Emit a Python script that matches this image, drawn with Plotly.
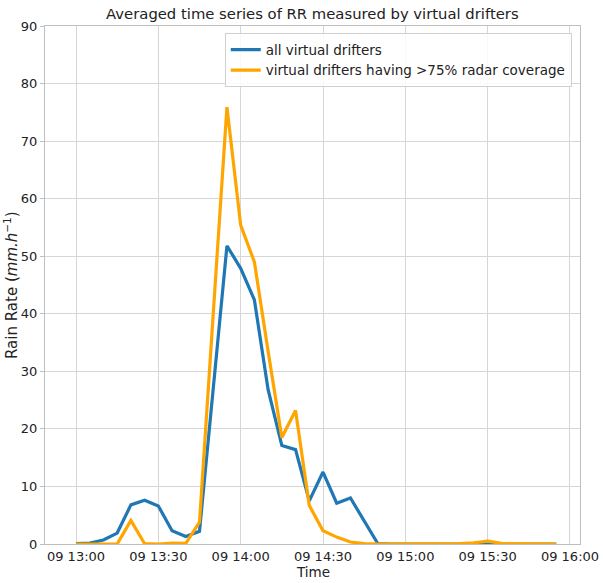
import plotly.graph_objects as go
import pandas as pd

times = pd.date_range("2019-01-09 13:00", "2019-01-09 15:55", freq="5min")

all_drifters = [0.05, 0.15, 0.7, 1.9, 6.8, 7.6, 6.6, 2.3, 1.3, 2.2,
                27.0, 51.8, 47.9, 42.4, 26.8, 17.1, 16.4, 7.5, 12.5, 7.1,
                8.0, 4.0, 0.05, 0.0, 0.0, 0.0, 0.0, 0.0, 0.0, 0.0,
                0.1, 0.0, 0.0, 0.0, 0.0, 0.0]
covered_drifters = [0.0, 0.0, 0.0, 0.0, 4.1, 0.05, 0.0, 0.15, 0.1, 3.8,
                    40.0, 75.9, 55.4, 49.0, 33.5, 18.5, 23.2, 6.7, 2.3, 1.2,
                    0.35, 0.05, 0.0, 0.0, 0.0, 0.0, 0.0, 0.0, 0.05, 0.2,
                    0.5, 0.1, 0.05, 0.0, 0.0, 0.0]

names = ["all virtual drifters", "virtual drifters having >75% radar coverage"]
colors = ["#1f77b4", "#FFA500"]

font = "DejaVu Sans, Verdana, sans-serif"
fig = go.Figure()
for y, n, c in zip([all_drifters, covered_drifters], names, colors):
    fig.add_trace(go.Scatter(x=times, y=y, mode="lines", name=n,
                             line=dict(color=c, width=3.2)))

axis_common = dict(showgrid=True, gridcolor="#d6d6d6", gridwidth=1,
                   showline=True, linecolor="#bfbfbf", linewidth=1, mirror=True,
                   automargin=False,
                   tickfont=dict(family=font, size=13, color="#222"), zeroline=False)

fig.update_layout(
    width=603, height=583,
    margin=dict(l=45, r=23, t=26, b=39),
    paper_bgcolor="white", plot_bgcolor="white",
    title=dict(text="Averaged time series of RR measured by virtual drifters",
               x=0.518, xanchor="center", y=0.976, yanchor="middle",
               font=dict(family=font, size=14.8, color="#222")),
    xaxis=dict(**axis_common, type="date",
               range=["2019-01-09 12:48:42", "2019-01-09 16:03:39"],
               dtick=30 * 60 * 1000, tick0="2019-01-09 13:00",
               tickformat="%d %H:%M", ticks=""),
    yaxis=dict(**axis_common, range=[0, 90], dtick=10,
               ticks="outside", ticklen=4, tickcolor="#bfbfbf"),
    legend=dict(x=0.336, y=0.986, xanchor="left", yanchor="top",
                bgcolor="rgba(255,255,255,0.85)", bordercolor="#d0d0d0", borderwidth=1,
                font=dict(family=font, size=13.5, color="#222"),
                itemwidth=30, tracegroupgap=0),
    showlegend=True,
    annotations=[
        dict(text="Time", xref="paper", yref="paper", x=0.5, y=-0.054,
             xanchor="center", yanchor="middle", showarrow=False,
             font=dict(family=font, size=13.5, color="#222")),
        dict(text="Rain Rate (<i>mm.h</i><sup>−1</sup>)", xref="paper", yref="paper",
             x=-0.0636, y=0.5, xanchor="center", yanchor="middle", textangle=-90,
             showarrow=False, font=dict(family=font, size=15, color="#222")),
    ],
)

fig.write_html("out.html")
